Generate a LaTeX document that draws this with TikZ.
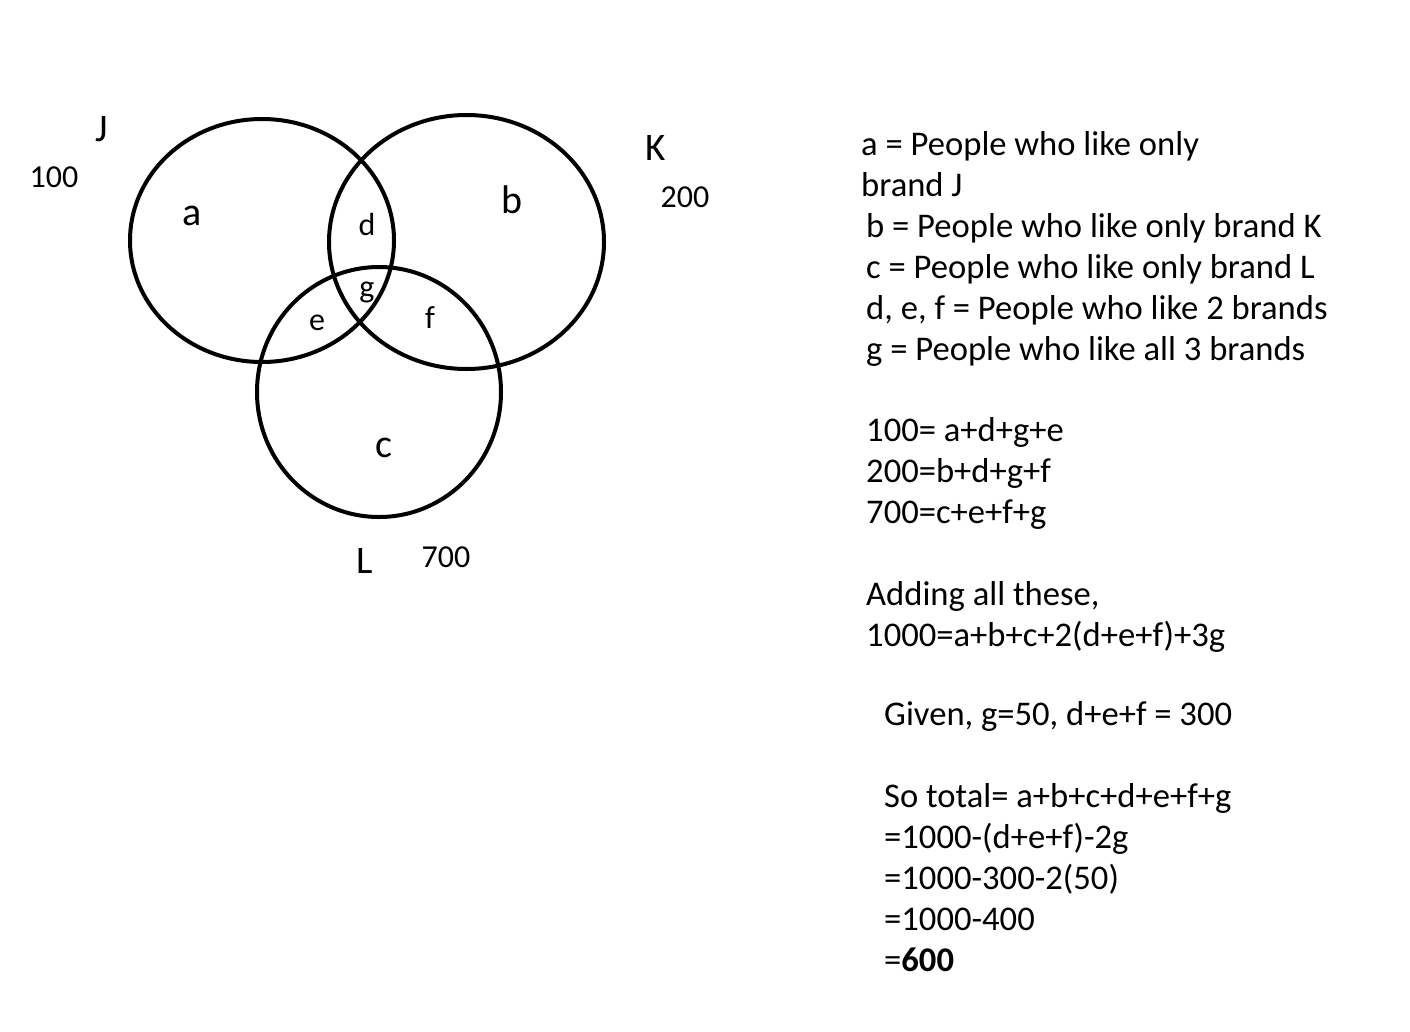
\documentclass[tikz,border=0pt]{standalone}
\usepackage{fontspec}
\setmainfont{Carlito}
\usepackage{tikz}
\usetikzlibrary{positioning}
\tikzstyle{ring} = [line width=4pt, color=black]
\tikzstyle{note} = [anchor=base west, inner sep=0pt, font=\fontsize{34.6}{41}\selectfont]
\tikzstyle{setname} = [anchor=base, inner sep=0pt, font=\fontsize{39}{46}\selectfont]
\tikzstyle{total} = [anchor=base, inner sep=0pt, font=\fontsize{32}{38}\selectfont]
\tikzstyle{region} = [anchor=base, inner sep=0pt, font=\fontsize{40}{48}\selectfont]
\tikzstyle{small} = [anchor=base, inner sep=0pt, font=\fontsize{32}{38}\selectfont]

\begin{document}
\begin{tikzpicture}[x=1pt, y=-1pt]
\useasboundingbox (0,0) rectangle (1410,1031);
% Venn circles
\draw[ring] (262,240.5) ellipse [x radius=132, y radius=121.5];
\draw[ring] (466.5,242) ellipse [x radius=137.5, y radius=127];
\draw[ring] (379,392) ellipse [x radius=122, y radius=125];

% Set names and totals
\node[setname] (nJ) at (102,141) {J};
\node[total] (tJ) at (54,187) {100};
\node[setname] (nK) at (656,160) {K};
\node[total] (tK) at (685,207) {200};
\node[setname] (nL) at (365,573) {L};
\node[total] (tL) at (446,567) {700};

% Regions
\node[region] (ra) at (192,225) {a};
\node[region] (rb) at (512,213) {b};
\node[region] (rc) at (384,457) {c};
\node[small] (rd) at (367,235) {d};
\node[small] (rg) at (367,297) {g};
\node[small] (re) at (317,330) {e};
\node[small] (rf) at (430,328) {f};

% Explanation
\node[note] (l1) at (861,155) {a = People who like only};
\node[note] (l2) at (861,196) {brand J};
\node[note] (l3) at (866,237) {b = People who like only brand K};
\node[note] (l4) at (866,278) {c = People who like only brand L};
\node[note] (l5) at (866,319) {d, e, f = People who like 2 brands};
\node[note] (l6) at (866,360) {g = People who like all 3 brands};

% Equations
\node[note] (q1) at (866,441) {100= a+d+g+e};
\node[note] (q2) at (866,482) {200=b+d+g+f};
\node[note] (q3) at (866,523) {700=c+e+f+g};
\node[note] (s1) at (866,605) {Adding all these,};
\node[note] (s2) at (866,646) {1000=a+b+c+2(d+e+f)+3g};
\node[note] (g1) at (884,725) {Given, g=50, d+e+f = 300};
\node[note] (t1) at (884,807) {So total= a+b+c+d+e+f+g};
\node[note] (t2) at (884,848) {=1000-(d+e+f)-2g};
\node[note] (t3) at (884,889) {=1000-300-2(50)};
\node[note] (t4) at (884,930) {=1000-400};
\node[note] (t5) at (884,971) {=\textbf{600}};
\end{tikzpicture}
\end{document}
